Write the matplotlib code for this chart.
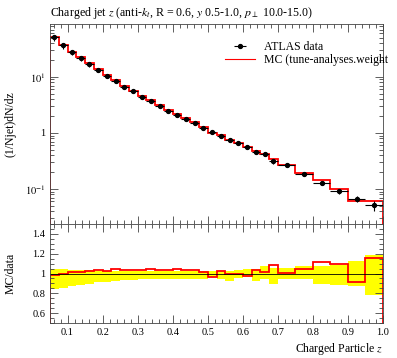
import numpy as np
import matplotlib
matplotlib.use("Agg")
from matplotlib import pyplot as plt
from matplotlib.ticker import AutoMinorLocator, LogLocator, FixedLocator, NullFormatter

plt.rcParams['font.family'] = ['Liberation Serif', 'DejaVu Serif']
plt.rcParams['mathtext.fontset'] = 'stix'

#--- bin edges: 0.025 wide up to 0.7, then 0.05 wide
edges = [0.05, 0.075, 0.1, 0.125, 0.15, 0.175, 0.2, 0.225, 0.25, 0.275, 0.3,
         0.325, 0.35, 0.375, 0.4, 0.425, 0.45, 0.475, 0.5, 0.525, 0.55, 0.575,
         0.6, 0.625, 0.65, 0.675, 0.7, 0.75, 0.8, 0.85, 0.9, 0.95, 1.0]

# ATLAS data, (1/Njet) dN/dz
data = [52.0, 37.0, 28.0, 21.8, 17.1, 13.3, 10.4, 8.5, 6.7, 5.5, 4.46,
        3.72, 3.03, 2.5, 2.09, 1.76, 1.49, 1.25, 1.04, 0.89, 0.75, 0.67,
        0.57, 0.46, 0.42, 0.316, 0.27, 0.187, 0.13, 0.093, 0.066, 0.052]

# MC / data
ratio = [0.98, 1.0, 1.014, 1.02, 1.024, 1.034, 1.03, 1.045, 1.038, 1.034,
         1.04, 1.048, 1.04, 1.038, 1.045, 1.04, 1.034, 1.02, 0.966, 1.024,
         1.0, 0.99, 0.976, 1.034, 1.014, 1.09, 1.007, 1.05, 1.116, 1.096,
         0.918, 1.157]

# relative data uncertainty band (upper / lower edge of the ratio)
band_hi = [1.048, 1.041, 1.034, 1.031, 1.031, 1.027, 1.027, 1.024, 1.024,
           1.024, 1.024, 1.024, 1.024, 1.024, 1.024, 1.024, 1.024, 1.03,
           1.03, 1.03, 1.03, 1.035, 1.045, 1.05, 1.08, 1.058, 1.058, 1.075,
           1.075, 1.085, 1.126, 1.185]
band_lo = [0.843, 0.853, 0.870, 0.884, 0.897, 0.911, 0.918, 0.925, 0.932,
           0.938, 0.945, 0.945, 0.945, 0.945, 0.945, 0.945, 0.945, 0.94,
           0.96, 0.94, 0.928, 0.955, 0.96, 0.92, 0.94, 0.894, 0.94, 0.94,
           0.894, 0.887, 0.87, 0.785]

edges = np.array(edges)
data = np.array(data)
ratio = np.array(ratio)
band_hi = np.array(band_hi)
band_lo = np.array(band_lo)
centres = 0.5 * (edges[1:] + edges[:-1])
halfw = 0.5 * (edges[1:] - edges[:-1])
mc = data * ratio
yerr = [data * (1 - band_lo), data * (band_hi - 1)]

W, H = 397, 358
fig = plt.figure(figsize=(W / 100, H / 100), dpi=100)
L, R = 50 / W, 383 / W
ax = fig.add_axes([L, 1 - 224 / H, R - L, 200 / H])
rx = fig.add_axes([L, 1 - 323 / H, R - L, 99 / H])

fc = '#444444'

def style(a):
  a.tick_params(which='both', direction='in', top=True, right=True,
                colors=fc, labelcolor='black', labelsize=7.5, width=0.6)
  a.tick_params(which='major', length=6)
  a.tick_params(which='minor', length=3)
  for s in a.spines.values():
    s.set_color(fc)
    s.set_linewidth(0.6)

# main panel
ax.stairs(mc, edges, color='red', lw=1.3)
ax.errorbar(centres, data, xerr=halfw, yerr=yerr, fmt='o', color='black',
            ms=2.8, lw=0.8, capsize=0)
ax.set_yscale('log')
ax.set_xlim(0.05, 1.0)
ax.set_ylim(0.0237, 88)
ax.yaxis.set_major_locator(FixedLocator([0.1, 1, 10]))
ax.set_yticklabels(['$10^{-1}$', '1', '$10^{1}$'])
ax.yaxis.set_minor_locator(LogLocator(base=10, subs=np.arange(2, 10)))
ax.yaxis.set_minor_formatter(NullFormatter())
ax.xaxis.set_minor_locator(AutoMinorLocator(5))
ax.set_xticks(np.arange(0.1, 1.01, 0.1))
ax.set_xticklabels([])
style(ax)
ax.set_ylabel('(1/Njet)dN/dz', fontsize=8.5)
ax.yaxis.set_label_coords(-0.1, 0.5)

# legend
h_data = ax.errorbar([], [], xerr=[], fmt='o', color='black', ms=2.8, lw=0.8)
h_mc, = ax.plot([], [], color='red', lw=0.8)
ax.legend([h_data, h_mc], ['ATLAS data', 'MC (tune-analyses.weight'],
          loc='upper left', bbox_to_anchor=(0.51, 0.94), frameon=False,
          fontsize=8.5, handlelength=2.6, handletextpad=0.7, labelspacing=0.15,
          borderaxespad=0)

# ratio panel
rx.stairs(band_hi, edges, baseline=band_lo, fill=True, color='#ffff00', lw=0)
rx.axhline(1.0, color='black', lw=0.6)
rx.stairs(ratio, edges, color='red', lw=1.3)
rx.set_xlim(0.05, 1.0)
rx.set_ylim(0.5, 1.5)
rx.set_yticks([0.6, 0.8, 1.0, 1.2, 1.4])
rx.set_yticklabels(['0.6', '0.8', '1', '1.2', '1.4'])
rx.yaxis.set_minor_locator(AutoMinorLocator(4))
rx.set_xticks(np.arange(0.1, 1.01, 0.1))
rx.set_xticklabels(['%.1f' % v for v in np.arange(0.1, 1.01, 0.1)])
rx.xaxis.set_minor_locator(AutoMinorLocator(5))
style(rx)
rx.set_ylabel('MC/data', fontsize=8.5)
rx.yaxis.set_label_coords(-0.1, 0.5)
rx.set_xlabel('Charged Particle $z$', fontsize=8.5, loc='right', labelpad=3)

fig.text(L, 1 - 13 / H,
         'Charged jet $z$ (anti-$k_t$, R = 0.6, $y$ 0.5-1.0, $p_\\perp$ 10.0-15.0)',
         fontsize=8.6, ha='left', va='center')

fig.savefig('out.png', dpi=100)
